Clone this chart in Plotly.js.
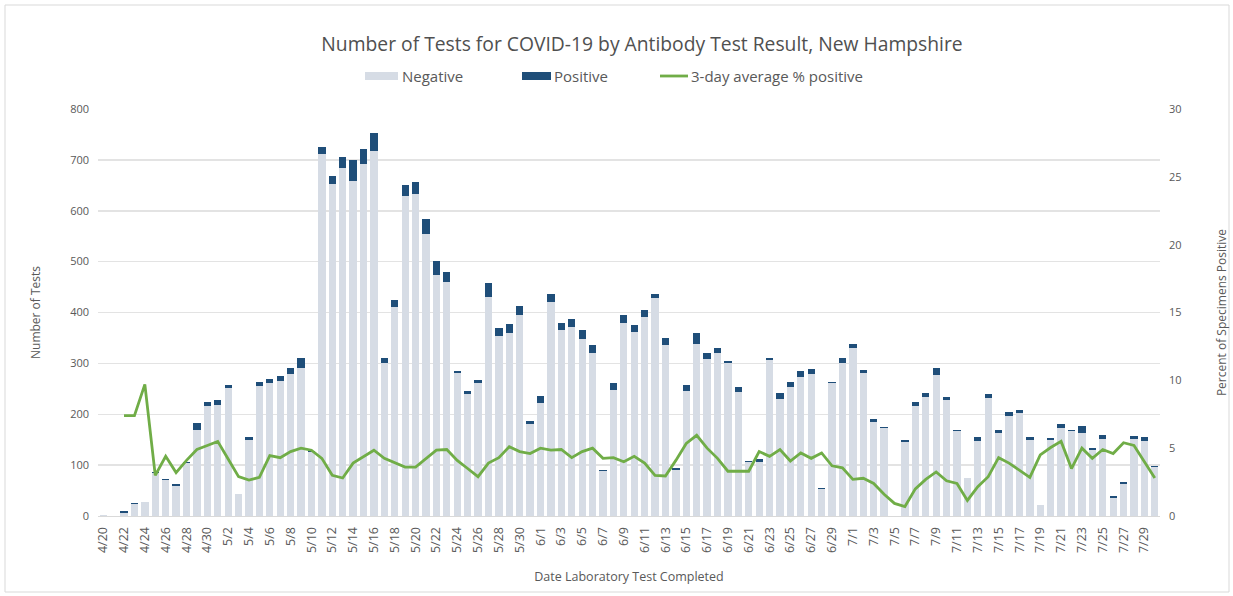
<!DOCTYPE html>
<html>
<head>
<meta charset="utf-8">
<script src="https://cdn.plot.ly/plotly-3.0.1.min.js"></script>
<style>
html,body{margin:0;padding:0;background:#fff;}
#chart{width:1233px;height:596px;}
</style>
</head>
<body>
<div id="chart"></div>
<script>
const dates = [
"4/20","4/21","4/22","4/23","4/24","4/25","4/26","4/27","4/28","4/29","4/30",
"5/1","5/2","5/3","5/4","5/5","5/6","5/7","5/8","5/9","5/10","5/11","5/12","5/13","5/14","5/15","5/16","5/17","5/18","5/19","5/20","5/21","5/22","5/23","5/24","5/25","5/26","5/27","5/28","5/29","5/30","5/31",
"6/1","6/2","6/3","6/4","6/5","6/6","6/7","6/8","6/9","6/10","6/11","6/12","6/13","6/14","6/15","6/16","6/17","6/18","6/19","6/20","6/21","6/22","6/23","6/24","6/25","6/26","6/27","6/28","6/29","6/30",
"7/1","7/2","7/3","7/4","7/5","7/6","7/7","7/8","7/9","7/10","7/11","7/12","7/13","7/14","7/15","7/16","7/17","7/18","7/19","7/20","7/21","7/22","7/23","7/24","7/25","7/26","7/27","7/28","7/29","7/30"
];

const negative = [
2,0,5,24,27,84,70,59,105,169,217,
218,251,44,150,256,261,265,279,290,126,711,652,685,659,691,718,301,411,629,633,554,473,459,281,239,262,431,354,360,396,181,
222,421,366,372,347,321,89,248,380,362,392,428,337,91,245,339,309,320,300,243,106,107,306,230,253,274,280,53,262,300,
330,282,185,173,0,146,216,234,278,228,167,75,148,231,163,197,203,150,21,149,173,167,163,130,152,36,63,152,148,96
];

const positive = [
0,0,4,1,1,2,3,3,2,13,8,
10,6,0,6,7,9,10,12,20,2,14,16,20,40,30,34,10,13,21,24,29,28,20,5,6,5,27,15,17,17,6,
14,15,14,16,18,16,1,14,15,14,13,8,12,4,12,20,11,11,5,10,2,6,5,12,10,11,9,2,2,11,
9,5,5,1,0,3,8,7,12,5,3,0,7,8,7,8,5,5,1,5,7,3,14,3,8,3,3,5,7,2
];

const avgPctPositive = [
null,null,7.4,7.4,9.7,3.0,4.4,3.2,4.1,4.9,5.2,
5.5,4.2,2.9,2.65,2.85,4.45,4.3,4.75,5.0,4.85,4.25,3.0,2.8,3.9,4.4,4.85,4.25,3.9,3.6,3.6,4.25,4.85,4.9,4.1,3.5,2.9,3.9,4.3,5.1,4.75,4.6,
5.0,4.85,4.9,4.3,4.75,5.0,4.25,4.3,4.0,4.4,3.9,3.0,2.95,4.1,5.35,5.95,5.0,4.25,3.3,3.3,3.3,4.75,4.4,4.9,4.05,4.65,4.25,4.65,3.7,3.55,
2.7,2.78,2.4,1.6,0.93,0.7,2.0,2.7,3.25,2.6,2.4,1.15,2.16,2.9,4.3,3.9,3.4,2.85,4.5,5.05,5.5,3.5,5.0,4.25,4.9,4.6,5.4,5.2,4.0,2.8
];

const tickDates = dates.filter((d, i) => i % 2 === 0);

const legendNames = ["Negative", "Positive", "3-day average % positive"];

const font = "Open Sans, Noto Sans, Liberation Sans, sans-serif";
const gray = "#595959";
const colNeg = "#d6dce5", colPos = "#1f4e79", colLine = "#70ad47";

const traces = [
  {type: "bar", name: legendNames[0], x: dates, y: negative, marker: {color: colNeg}},
  {type: "bar", name: legendNames[1], x: dates, y: positive, marker: {color: colPos}},
  {type: "scatter", mode: "lines", name: legendNames[2], x: dates, y: avgPctPositive, yaxis: "y2",
   line: {color: colLine, width: 2.8}, connectgaps: false}
];

// custom legend geometry (pixels -> paper)
const L = 98, W = 1062, T = 109, H = 407;
const px = v => (v - L) / W;
const py = v => (T + H - v) / H;

const legendItems = [
  {x0: 365, x1: 398, tx: 400, kind: "rect", color: colNeg},
  {x0: 522, x1: 551, tx: 552, kind: "rect", color: colPos},
  {x0: 660, x1: 688, tx: 689, kind: "line", color: colLine}
];
const legY = 76;

const shapes = [
  {type: "rect", xref: "paper", yref: "paper",
   x0: px(5), x1: px(1229), y0: py(592), y1: py(5),
   line: {color: "#d9d9d9", width: 1}, fillcolor: "rgba(0,0,0,0)", layer: "below"}
];
const annotations = [];
legendItems.forEach((it, i) => {
  if (it.kind === "rect") {
    shapes.push({type: "rect", xref: "paper", yref: "paper",
      x0: px(it.x0), x1: px(it.x1), y0: py(legY + 4), y1: py(legY - 4),
      line: {width: 0}, fillcolor: it.color});
  } else {
    shapes.push({type: "line", xref: "paper", yref: "paper",
      x0: px(it.x0), x1: px(it.x1), y0: py(legY), y1: py(legY),
      line: {width: 2.8, color: it.color}});
  }
  annotations.push({xref: "paper", yref: "paper", x: px(it.tx), y: py(legY),
    xanchor: "left", yanchor: "middle", showarrow: false, text: legendNames[i],
    font: {family: font, size: 15, color: gray}});
});

const layout = {
  width: 1233, height: 596,
  margin: {l: 98, r: 73, t: 109, b: 80},
  paper_bgcolor: "#ffffff", plot_bgcolor: "#ffffff",
  barmode: "stack", bargap: 0.3,
  font: {family: font, color: gray, size: 11},
  title: {
    text: "Number of Tests for COVID-19 by Antibody Test Result, New Hampshire",
    font: {family: font, size: 19.3, color: "#505050"},
    x: 642/1233, xanchor: "center", y: 1 - 44/596, yanchor: "middle"
  },
  showlegend: false,
  xaxis: {
    type: "category", tickmode: "array", tickvals: tickDates, ticktext: tickDates,
    tickangle: -90, tickfont: {size: 12.5, color: gray},
    showgrid: false, showline: true, linecolor: "#d9d9d9", linewidth: 1,
    ticks: "", zeroline: false, ticklabelstandoff: 5,
    title: {text: "Date Laboratory Test Completed", font: {size: 12.5, color: gray}, standoff: 20}
  },
  yaxis: {
    range: [0, 800], dtick: 100, tick0: 0,
    showgrid: true, gridcolor: "#e3e3e3", gridwidth: 1.5,
    zeroline: false, showline: false, ticks: "",
    tickfont: {size: 11, color: gray}, ticklabelstandoff: 8,
    title: {text: "Number of Tests", font: {size: 12, color: gray}, standoff: 26}
  },
  yaxis2: {
    overlaying: "y", side: "right", range: [0, 30], dtick: 5, tick0: 0,
    showgrid: false, zeroline: false, showline: false, ticks: "",
    tickfont: {size: 11, color: gray}, ticklabelstandoff: 8,
    title: {text: "Percent of Specimens Positive", font: {size: 12, color: gray}, standoff: 37}
  },
  shapes: shapes,
  annotations: annotations
};

Plotly.newPlot("chart", traces, layout, {displayModeBar: false, staticPlot: true});
</script>
</body>
</html>
